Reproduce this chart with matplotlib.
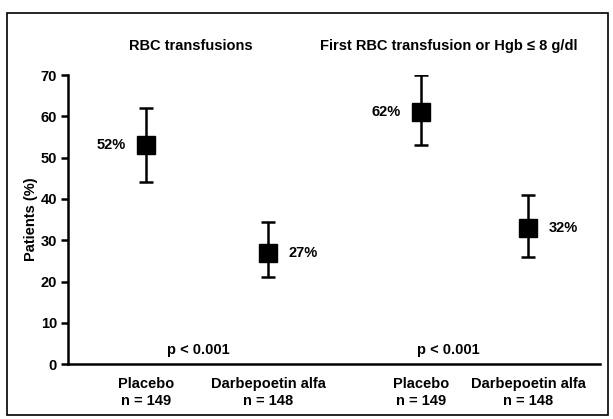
import matplotlib
matplotlib.use('Agg')
import matplotlib.pyplot as plt
from matplotlib.patches import Rectangle

plt.rcParams['font.family'] = ['Liberation Sans', 'DejaVu Sans']
plt.rcParams['font.weight'] = 'bold'

# data
groups = ['Placebo\nn = 149', 'Darbepoetin alfa\nn = 148',
          'Placebo\nn = 149', 'Darbepoetin alfa\nn = 148']
xpos = [1.47, 3.76, 6.64, 8.65]
means = [53, 27, 61, 33]
lower = [44, 21, 53, 26]
upper = [62, 34.5, 70, 41]
pct_labels = ['52%', '27%', '62%', '32%']
label_side = ['left', 'right', 'left', 'right']
panel_titles = ['RBC transfusions', 'First RBC transfusion or Hgb \u2264 8 g/dl']
title_x = [2.3, 7.15]
pval_text = 'p < 0.001'
pval_x = [2.45, 7.15]

FS = 10.5

fig = plt.figure(figsize=(6.13, 4.19), dpi=100)
ax = fig.add_axes([0.111, 0.131, 0.868, 0.690])

yerr = [[m - l for m, l in zip(means, lower)], [u - m for m, u in zip(means, upper)]]
ax.errorbar(xpos, means, yerr=yerr, fmt='s', color='black', ms=13,
            elinewidth=1.8, capsize=5, capthick=1.8)

for x, m, lab, side in zip(xpos, means, pct_labels, label_side):
    if side == 'left':
        ax.text(x - 0.38, m, lab, ha='right', va='center', fontsize=FS, fontweight='bold')
    else:
        ax.text(x + 0.38, m, lab, ha='left', va='center', fontsize=FS, fontweight='bold')

for tx, t in zip(title_x, panel_titles):
    ax.text(tx, 77, t, ha='center', va='center', fontsize=FS, fontweight='bold', clip_on=False)

for px in pval_x:
    ax.text(px, 3.5, pval_text, ha='center', va='center', fontsize=FS, fontweight='bold')

ax.set_xlim(0, 10)
ax.set_ylim(0, 70)
ax.set_yticks(range(0, 71, 10))
ax.set_xticks(xpos)
ax.set_xticklabels(groups, fontsize=FS, fontweight='bold', linespacing=1.3)
ax.tick_params(axis='x', length=0, pad=9)
ax.tick_params(axis='y', length=5, width=1.8, labelsize=FS, pad=3)
for lab in ax.get_yticklabels():
    lab.set_fontweight('bold')
ax.set_ylabel('Patients (%)', fontsize=FS, fontweight='bold', labelpad=1.5)

for s in ['top', 'right']:
    ax.spines[s].set_visible(False)
ax.spines['left'].set_linewidth(1.8)
ax.spines['bottom'].set_linewidth(1.8)

# frame around the whole figure
fig.patches.append(Rectangle((0.012, 0.01), 0.98, 0.958, transform=fig.transFigure,
                             fill=False, edgecolor='black', linewidth=1.2))

fig.savefig('out.png', dpi=100)
